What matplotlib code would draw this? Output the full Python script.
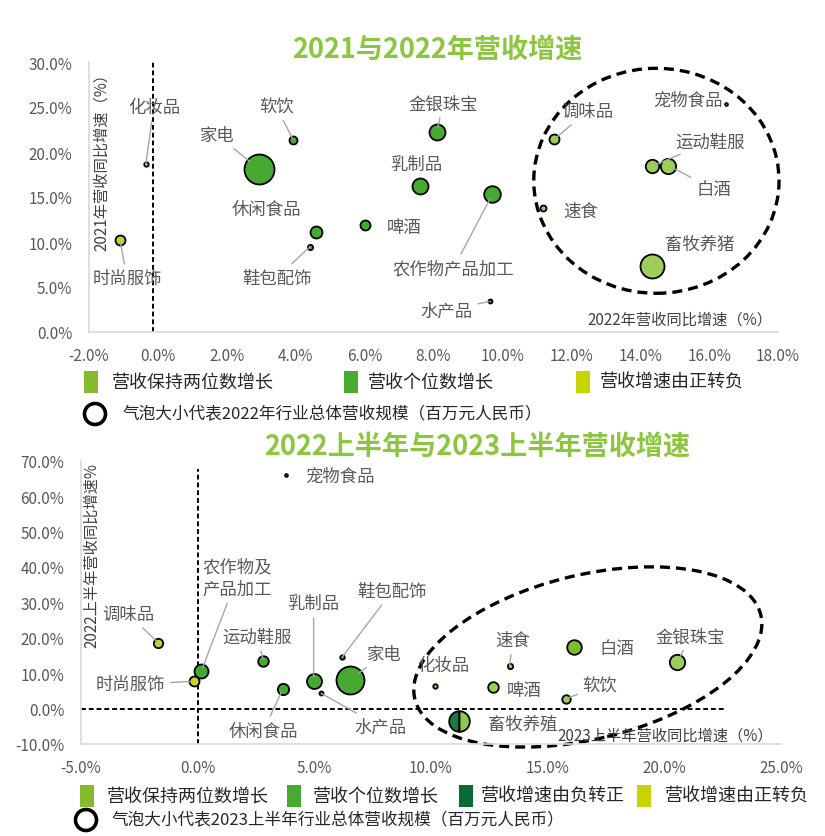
import matplotlib
matplotlib.use('Agg')
import matplotlib.pyplot as plt
from matplotlib.patches import Ellipse, Rectangle
from matplotlib.transforms import IdentityTransform, ScaledTranslation
from matplotlib.ticker import FuncFormatter, MultipleLocator

plt.rcParams['font.family'] = ['Noto Sans CJK SC', 'DejaVu Sans']

W, H = 825, 837

# ---- 2021 vs 2022 ----
cats1 = ['时尚服饰', '化妆品', '家电', '休闲食品', '软饮', '鞋包配饰', '啤酒', '乳制品', '金银珠宝',
         '农作物产品加工', '水产品', '速食', '调味品', '宠物食品', '运动鞋服', '白酒', '畜牧养猪']
growth22 = [-1.10, -0.35, 2.94, 4.59, 3.93, 4.42, 6.00, 7.62, 8.10, 9.71, 9.63, 11.18, 11.50, 16.49, 14.33, 14.82, 14.33]
growth21 = [10.2, 18.7, 18.1, 11.1, 21.3, 9.5, 11.9, 16.2, 22.2, 15.3, 3.4, 13.8, 21.4, 25.3, 18.4, 18.5, 7.3]
scale22 = [25, 5, 225, 36, 16, 7, 25, 64, 64, 69, 4, 9, 25, 2, 45, 59, 144]
group1 = ['neg', 'neg', 'single', 'single', 'single', 'single', 'single', 'single', 'single',
          'single', 'single', 'double', 'double', 'double', 'double', 'double', 'double']

# ---- 2022H1 vs 2023H1 ----
cats2 = ['宠物食品', '调味品', '时尚服饰', '农作物及\n产品加工', '运动鞋服', '休闲食品', '乳制品', '鞋包配饰', '家电',
         '水产品', '化妆品', '啤酒', '速食', '白酒', '软饮', '金银珠宝', '畜牧养殖']
growth23h1 = [3.79, -1.68, -0.14, 0.15, 2.82, 3.64, 4.97, 6.19, 6.52, 5.29, 10.15, 12.65, 13.37, 16.12, 15.79, 20.56, 11.22]
growth22h1 = [66.0, 18.5, 7.7, 10.5, 13.3, 5.4, 7.7, 14.5, 8.1, 4.3, 6.3, 6.0, 12.0, 17.3, 2.8, 13.1, -3.6]
scale23h1 = [2, 22, 25, 49, 28, 32, 56, 5, 196, 4, 5, 28, 7, 53, 18, 59, 106]
group2 = ['single', 'neg', 'neg', 'single', 'single', 'single', 'single', 'single', 'single',
          'single', 'double', 'double', 'double', 'double_dark', 'double', 'double', 'turn']

# label offsets from bubble (pixels, right / up) and whether a leader line is drawn
lab1 = [(7, -38, 1), (8, 57, 1), (-42, 34, 1), (-50, 23, 0), (-17, 34, 1), (-33, -31, 1), (40, -2, 0),
        (-4, 22, 0), (6, 29, 1), (-39, -74, 1), (-43, -9, 1), (38, -3, 0), (33, 28, 1), (-38, 4, 0),
        (59, 25, 1), (45, -24, 1), (48, 22, 0)]
lab2 = [(54, -1, 0), (-30, 29, 1), (-64, -3, 1), (36, 94, 1), (-6, 25, 1), (-19, -41, 1), (0, 78, 1),
        (50, 66, 1), (34, 26, 1), (59, -33, 1), (9, 21, 0), (31, -3, 0), (3, 26, 1), (43, -1, 0),
        (34, 13, 1), (13, 26, 1), (63, -2, 0)]

colors = {'double': '#9fcd5a', 'double_dark': '#80bb2b', 'single': '#47a933', 'neg': '#c6d32a'}
legend_colors = ['#85bc2f', '#47ab2f', '#0b6b37', '#c8d400']
green_title = '#8cc63f'
gray = '#595959'

fig = plt.figure(figsize=(W / 100, H / 100), dpi=100)


def fx(px):
    return px / W


def fy(py):
    return 1 - py / H


def style(ax):
    for s in ['top', 'right']:
        ax.spines[s].set_visible(False)
    for s in ['left', 'bottom']:
        ax.spines[s].set_color('#d9d9d9')
        ax.spines[s].set_linewidth(1.2)
    ax.tick_params(length=0, labelsize=11, labelcolor=gray)
    ax.tick_params(axis='y', pad=12)
    ax.tick_params(axis='x', pad=11)
    ax.xaxis.set_major_formatter(FuncFormatter(lambda v, p: '%.1f%%' % v))
    ax.yaxis.set_major_formatter(FuncFormatter(lambda v, p: '%.1f%%' % v))


def bubbles(ax, xs, ys, sc, groups, cats, labs):
    for x, y, s, g, c, (dx, dy, lead) in zip(xs, ys, sc, groups, cats, labs):
        d = 2 * s ** 0.5 * 0.72
        if g == 'turn':
            ax.plot(x, y, 'o', markersize=d, fillstyle='left', markerfacecolor='#1b7a3c',
                    markerfacecoloralt='#8dc851', markeredgecolor='black', markeredgewidth=1.3, zorder=3)
        else:
            ax.scatter(x, y, s=d ** 2, color=colors[g], edgecolor='black', linewidth=1.3, zorder=3)
        arrow = None
        if lead:
            arrow = dict(arrowstyle='-', color='#a6a6a6', lw=1.0, shrinkA=2, shrinkB=d / 2 - 2)
        ax.annotate(c, xy=(x, y), xytext=(dx * 0.72, dy * 0.72), textcoords='offset points',
                    ha='center', va='center', fontsize=12.5, color=gray, linespacing=1.35,
                    arrowprops=arrow, zorder=4)


# ---- top chart ----
ax1 = fig.add_axes([fx(89), fy(333), fx(778) - fx(89), fy(63) - fy(333)])
style(ax1)
ax1.set_xlim(-2, 18)
ax1.set_ylim(0, 30)
ax1.xaxis.set_major_locator(MultipleLocator(2))
ax1.yaxis.set_major_locator(MultipleLocator(5))
ax1.axvline(-0.15, color='black', lw=1.4, ls=(0, (2.5, 1.5)), zorder=1)
bubbles(ax1, growth22, growth21, scale22, group1, cats1, lab1)
ax1.add_patch(Ellipse((14.47, 16.8), 7.12, 25, fill=False, edgecolor='black', lw=2.4,
                      ls=(0, (3, 1.8)), clip_on=False, zorder=2))

fig.text(fx(437), fy(50), '2021与2022年营收增速', ha='center', va='center', fontsize=19.5,
         fontweight='bold', color=green_title)
fig.text(fx(101), fy(158), '2021年营收同比增速（%）', rotation=90, ha='center', va='center',
         fontsize=11, color='#404040')
fig.text(fx(680), fy(320), '2022年营收同比增速（%）', ha='center', va='center', fontsize=11, color='#404040')

# ---- bottom chart ----
ax2 = fig.add_axes([fx(81), fy(745), fx(781) - fx(81), fy(461.7) - fy(745)])
style(ax2)
ax2.set_xlim(-5, 25)
ax2.set_ylim(-10, 70)
ax2.xaxis.set_major_locator(MultipleLocator(5))
ax2.yaxis.set_major_locator(MultipleLocator(10))
ax2.plot([0, 0], [-10, 67.7], color='black', lw=1.4, ls=(0, (2.5, 1.5)), zorder=1)
ax2.plot([-5, 22.6], [0, 0], color='black', lw=1.4, ls=(0, (2.5, 1.5)), zorder=1)
bubbles(ax2, growth23h1, growth22h1, scale23h1, group2, cats2, lab2)
tr = IdentityTransform() + ScaledTranslation(16.72, 14.58, ax2.transData)
ax2.add_patch(Ellipse((0, 0), 356, 164, angle=13.7, fill=False, edgecolor='black', lw=2.4,
                      ls=(0, (3, 1.8)), clip_on=False, transform=tr, zorder=2))

fig.text(fx(477), fy(447), '2022上半年与2023上半年营收增速', ha='center', va='center', fontsize=19.5,
         fontweight='bold', color=green_title)
fig.text(fx(92), fy(556), '2022上半年营收同比增速%', rotation=90, ha='center', va='center',
         fontsize=11, color='#404040')
fig.text(fx(665), fy(736), '2023上半年营收同比增速（%）', ha='center', va='center', fontsize=11,
         color='#404040')


# ---- legends ----
def legend_row(items, yc):
    for x0, col, txt, tx in items:
        fig.add_artist(Rectangle((fx(x0), fy(yc + 11)), 14 / W, 22 / H, transform=fig.transFigure,
                                 facecolor=col, edgecolor='none'))
        fig.text(fx(tx), fy(yc), txt, ha='left', va='center', fontsize=13, color='#262626')


def legend_bubble(xc, yc, txt, tx):
    fig.add_artist(Ellipse((fx(xc), fy(yc)), 21 / W, 21 / H, transform=fig.transFigure,
                           fill=False, edgecolor='black', lw=2.6))
    fig.text(fx(tx), fy(yc), txt, ha='left', va='center', fontsize=12, color='#262626')


legend_row([(84, legend_colors[0], '营收保持两位数增长', 112),
            (344, legend_colors[1], '营收个位数增长', 368),
            (576, legend_colors[3], '营收增速由正转负', 600)], 383)
legend_bubble(95, 415, '气泡大小代表2022年行业总体营收规模（百万元人民币）', 123)

legend_row([(80, legend_colors[0], '营收保持两位数增长', 107),
            (287, legend_colors[1], '营收个位数增长', 313),
            (459, legend_colors[2], '营收增速由负转正', 481),
            (637, legend_colors[3], '营收增速由正转负', 665)], 797)
legend_bubble(86, 821, '气泡大小代表2023上半年行业总体营收规模（百万元人民币）', 112)

fig.savefig('out.png', dpi=100)
